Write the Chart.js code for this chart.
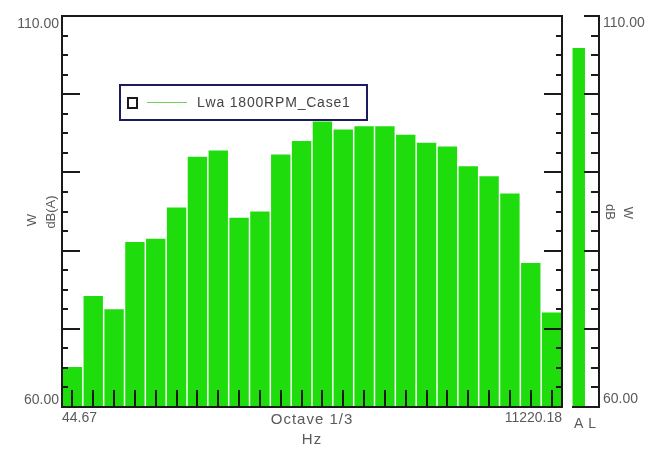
<!DOCTYPE html>
<html>
<head>
<meta charset="utf-8">
<script src="https://cdn.jsdelivr.net/npm/chart.js@4.4.1/dist/chart.umd.min.js"></script>
<style>
  html, body { margin:0; padding:0; background:#fff; }
  #wrap { position:relative; width:653px; height:456px; }
  #wrap canvas { position:absolute; left:0; top:0; }
</style>
</head>
<body>
<div id="wrap">
  <canvas id="chartBands" width="653" height="456"></canvas>
  <canvas id="chartTotal" width="653" height="456"></canvas>
</div>
<script>
// 1/3 octave bands 50 Hz .. 10 kHz (edges 44.67 .. 11220.18 Hz)
const bandLabels = ["50","63","80","100","125","160","200","250","315","400","500","630",
                    "800","1000","1250","1600","2000","2500","3150","4000","5000","6300","8000","10000"];
const lwaValues  = [65.1, 74.2, 72.5, 81.1, 81.5, 85.5, 92.0, 92.8, 84.2, 85.0, 92.3, 94.0,
                    96.5, 95.5, 95.9, 95.9, 94.8, 93.8, 93.3, 90.8, 89.5, 87.3, 78.4, 72.1];
const totalLabels = ["A", "L"];
const totalValues = [105.9, null];

const yMin = 60, yMax = 110;
const yTickLabels = ["60.00", "110.00"];
const xEdgeLabels = ["44.67", "11220.18"];
const xTitle = ["Octave 1/3", "Hz"];
const seriesName = "Lwa 1800RPM_Case1";

const GREEN = "#1fdc0c";
const INK = "#1a1a1a";
const GREY = "#5a5a5a";
const FONT = '"Liberation Sans", Arial, sans-serif';

Chart.defaults.animation = false;
Chart.defaults.font.family = FONT;

// y tick marks every 2.5 dB, long ones every 10
function yTicks(){
  const out = [];
  for(let v = yMin; v <= yMax + 0.001; v += 2.5) out.push({ v, major: Math.abs(v % 10) < 0.01 });
  return out;
}

function rotText(ctx, txt, x, y, ang){
  ctx.save();
  ctx.translate(x, y);
  ctx.rotate(ang);
  ctx.textAlign = "center";
  ctx.textBaseline = "middle";
  ctx.fillText(txt, 0, 0);
  ctx.restore();
}

const bandDecor = {
  id: "bandDecor",
  afterDatasetsDraw(chart){
    const { ctx, chartArea: a, scales: { x, y } } = chart;
    ctx.save();
    ctx.strokeStyle = INK;
    ctx.lineWidth = 2;
    ctx.strokeRect(a.left, a.top, a.right - a.left, a.bottom - a.top);

    ctx.beginPath();
    yTicks().forEach(t => {
      const py = Math.round(y.getPixelForValue(t.v));
      const len = t.major ? 18 : 6;
      ctx.moveTo(a.left, py); ctx.lineTo(a.left + len, py);
      ctx.moveTo(a.right, py); ctx.lineTo(a.right - len, py);
    });
    bandLabels.forEach((_, i) => {
      const px = Math.round(x.getPixelForValue(i));
      ctx.moveTo(px, a.bottom); ctx.lineTo(px, a.bottom - 17);
    });
    ctx.stroke();

    ctx.fillStyle = GREY;
    ctx.font = "14px " + FONT;
    ctx.textBaseline = "middle";
    ctx.textAlign = "right";
    ctx.fillText(yTickLabels[1], a.left - 3, a.top + 8);
    ctx.fillText(yTickLabels[0], a.left - 3, a.bottom - 7);
    ctx.textAlign = "left";
    ctx.fillText(xEdgeLabels[0], a.left, a.bottom + 11);
    ctx.textAlign = "right";
    ctx.fillText(xEdgeLabels[1], a.right, a.bottom + 11);

    ctx.textAlign = "center";
    ctx.font = "15px " + FONT;
    ctx.letterSpacing = "1px";
    const cx = (a.left + a.right) / 2;
    ctx.fillText(xTitle[0], cx, a.bottom + 13);
    ctx.fillText(xTitle[1], cx, a.bottom + 33);
    ctx.letterSpacing = "0px";

    ctx.font = "13px " + FONT;
    rotText(ctx, "W", 32, 220, -Math.PI / 2);
    rotText(ctx, "dB(A)", 51, 212, -Math.PI / 2);

    // legend box
    ctx.strokeStyle = "#1b1b5e";
    ctx.lineWidth = 2;
    ctx.strokeRect(120, 85, 247, 35);
    ctx.strokeStyle = INK;
    ctx.strokeRect(128, 98, 9, 10);
    ctx.strokeStyle = "#6fcf5f";
    ctx.lineWidth = 1;
    ctx.beginPath(); ctx.moveTo(147, 102.5); ctx.lineTo(187, 102.5); ctx.stroke();
    ctx.fillStyle = "#444";
    ctx.font = "14px " + FONT;
    ctx.letterSpacing = "0.8px";
    ctx.textAlign = "left";
    ctx.fillText(seriesName, 197, 103);
    ctx.restore();
  }
};

const totalDecor = {
  id: "totalDecor",
  afterDatasetsDraw(chart){
    const { ctx, chartArea: a, scales: { y } } = chart;
    ctx.save();
    ctx.strokeStyle = INK;
    ctx.lineWidth = 2;
    ctx.beginPath();
    ctx.moveTo(a.right, a.top - 1); ctx.lineTo(a.right, a.bottom);
    ctx.lineTo(a.left, a.bottom);
    yTicks().forEach(t => {
      const py = Math.round(y.getPixelForValue(t.v));
      ctx.moveTo(a.right, py); ctx.lineTo(a.right - (t.major ? 15 : 8), py);
    });
    ctx.stroke();

    ctx.fillStyle = GREY;
    ctx.font = "14px " + FONT;
    ctx.textBaseline = "middle";
    ctx.textAlign = "left";
    ctx.fillText(yTickLabels[1], a.right + 4, a.top + 7);
    ctx.fillText(yTickLabels[0], a.right + 4, a.bottom - 8);

    ctx.font = "13px " + FONT;
    rotText(ctx, "dB", 610, 212, Math.PI / 2);
    rotText(ctx, "W", 628, 213, Math.PI / 2);
    ctx.restore();
  }
};

new Chart(document.getElementById("chartBands"), {
  type: "bar",
  data: {
    labels: bandLabels,
    datasets: [{ label: seriesName, data: lwaValues, backgroundColor: GREEN,
                 borderWidth: 0, barPercentage: 0.93, categoryPercentage: 1.0 }]
  },
  options: {
    responsive: false,
    devicePixelRatio: 1,
    layout: { padding: { top: 16, right: 91, left: 0, bottom: 0 } },
    plugins: { legend: { display: false }, tooltip: { enabled: false } },
    scales: {
      x: { type: "category", offset: true, grid: { display: false }, border: { display: false },
           ticks: { display: false }, afterFit: s => { s.height = 49; } },
      y: { min: yMin, max: yMax, grid: { display: false }, border: { display: false },
           ticks: { display: false }, afterFit: s => { s.width = 62; } }
    }
  },
  plugins: [bandDecor]
});

new Chart(document.getElementById("chartTotal"), {
  type: "bar",
  data: {
    labels: totalLabels,
    datasets: [{ label: "total", data: totalValues, backgroundColor: GREEN,
                 borderWidth: 0, barPercentage: 0.92, categoryPercentage: 1.0 }]
  },
  options: {
    responsive: false,
    devicePixelRatio: 1,
    layout: { padding: { top: 16, right: 0, left: 572, bottom: 0 } },
    plugins: { legend: { display: false }, tooltip: { enabled: false } },
    scales: {
      x: { type: "category", offset: true, grid: { display: false, drawTicks: false },
           border: { display: false },
           ticks: { color: GREY, font: { size: 14 }, padding: 9, maxRotation: 0 },
           afterFit: s => { s.height = 49; } },
      y: { position: "right", min: yMin, max: yMax, grid: { display: false },
           border: { display: false }, ticks: { display: false },
           afterFit: s => { s.width = 54; } }
    }
  },
  plugins: [totalDecor]
});
</script>
</body>
</html>
